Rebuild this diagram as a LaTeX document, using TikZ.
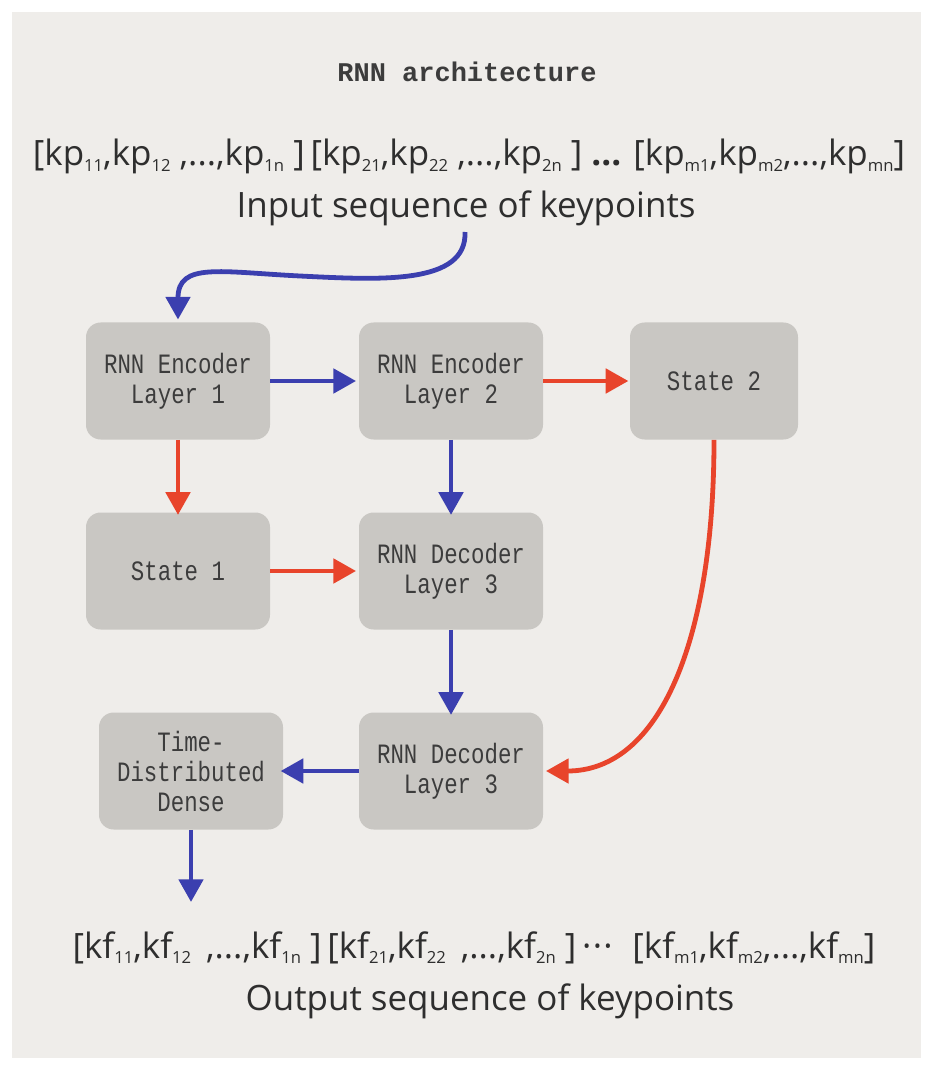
\documentclass[tikz,border=0pt]{standalone}
\usepackage{fontspec}
\setmainfont{Open Sans}
\newfontfamily\boxfont[FakeStretch=0.8]{Liberation Mono}
\newfontfamily\titlefont{Liberation Mono}
\usetikzlibrary{arrows.meta}
\definecolor{panel}{HTML}{EFEDEA}
\definecolor{boxfill}{HTML}{C9C7C3}
\definecolor{boxtext}{HTML}{3C3C3C}
\definecolor{arrblue}{HTML}{3B3FAF}
\definecolor{arrred}{HTML}{E8442B}
\definecolor{seqtext}{HTML}{2E2E2E}
\newcommand{\ksub}[1]{\raisebox{-4pt}{\fontsize{12.5}{13}\selectfont #1}}
\begin{document}
\begin{tikzpicture}[x=0.75pt,y=-0.75pt,
  box/.style={rounded corners=11pt, fill=boxfill, text=boxtext,
    minimum width=138pt, minimum height=87.75pt, inner sep=0pt, align=center,
    font=\boxfont\fontsize{21}{22.5}\selectfont},
  seq/.style={anchor=base, text=seqtext, inner sep=0pt, font=\fontsize{26.2}{30}\selectfont},
  conn/.style={line width=3.6pt, -{Triangle[length=17pt,width=18pt]}},
  bluearr/.style={conn, draw=arrblue},
  redarr/.style={conn, draw=arrred}]
\useasboundingbox (0,0) rectangle (934,1069);
\fill[white] (0,0) rectangle (934,1069);
\fill[panel] (12,12) rectangle (921,1058);

\node[anchor=base, text=boxtext, inner sep=0pt, font=\titlefont\bfseries\fontsize{20.25}{22}\selectfont] (title) at (467,82) {RNN architecture};

\node[seq] (inseq) at (469,166) {[kp\ksub{11},kp\ksub{12} ,...,kp\ksub{1n} ]\,[kp\ksub{21},kp\ksub{22} ,...,kp\ksub{2n} ] \textbf{...} [kp\ksub{m1},kp\ksub{m2},...,kp\ksub{mn}]};
\node[seq] (inlabel) at (466,218) {Input sequence of keypoints};

\node[box] (enc1) at (178,381) {RNN Encoder\\Layer 1};
\node[box] (enc2) at (451,381) {RNN Encoder\\Layer 2};
\node[box, minimum width=126pt] (state2) at (714,381) {State 2};
\node[box] (state1) at (178,571) {State 1};
\node[box] (dec3a) at (451,571) {RNN Decoder\\Layer 3};
\node[box] (tdd) at (191,771) {Time-\\Distributed\\Dense};
\node[box] (dec3b) at (451,771) {RNN Decoder\\Layer 3};

\node[seq] (outseq) at (474,958) {[kf\ksub{11},kf\ksub{12} \,,...,kf\ksub{1n} ]\,[kf\ksub{21},kf\ksub{22} \,,...,kf\ksub{2n} ]\,·\hspace{1pt}·\hspace{1pt}·\hspace{8pt} [kf\ksub{m1},kf\ksub{m2},...,kf\ksub{mn}]};
\node[seq] (outlabel) at (490,1010) {Output sequence of keypoints};

\coordinate (inStart) at (465,232);
\coordinate (outEnd) at (191,902);

\draw[bluearr] (inStart) .. controls (467,285) and (380,280) .. (300,276) .. controls (220,272) and (178,262) .. ([yshift=2]enc1.north);
\draw[bluearr] (enc1.east) -- ([xshift=-2]enc2.west);
\draw[redarr] (enc2.east) -- ([xshift=-1]state2.west);
\draw[redarr] (enc1.south) -- ([yshift=-2]state1.north);
\draw[bluearr] (enc2.south) -- ([yshift=-2]dec3a.north);
\draw[redarr] (state1.east) -- ([xshift=-2]dec3a.west);
\draw[bluearr] (dec3a.south) -- ([yshift=-2]dec3b.north);
\draw[redarr] (state2.south) .. controls (714,640) and (660,771) .. ([xshift=2]dec3b.east);
\draw[bluearr] (dec3b.west) -- ([xshift=-2]tdd.east);
\draw[bluearr] (tdd.south) -- (outEnd);
\end{tikzpicture}
\end{document}
